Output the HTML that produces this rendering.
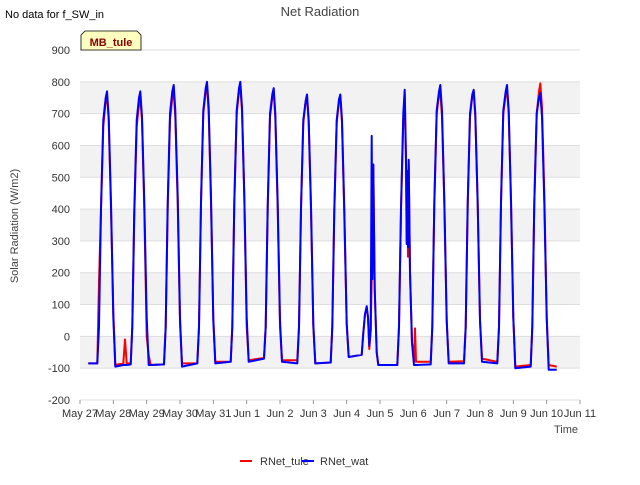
<!DOCTYPE html>
<html><head><meta charset="utf-8"><style>
body{margin:0;background:#fff;font-family:"Liberation Sans",sans-serif}
svg text{font-family:"Liberation Sans",sans-serif}
</style></head><body>
<svg width="640" height="480" xmlns="http://www.w3.org/2000/svg">
<rect width="640" height="480" fill="#fff"/>
<text x="320" y="16" text-anchor="middle" font-size="13" fill="#444">Net Radiation</text>
<text x="5" y="18" font-size="11" fill="#000">No data for f_SW_in</text>
<g id="bands"></g>
<g id="grid"></g>
<g id="series"></g>
<g id="axes"></g>
<g>
<path d="M81,50 L81,35 L85,31 L137,31 L141,35 L141,50 Z" fill="#ffffc0" stroke="#000" stroke-width="0.8"/>
<text x="111" y="46" text-anchor="middle" font-size="11" font-weight="bold" fill="#8b0000">MB_tule</text>
</g>
<text x="18" y="226" text-anchor="middle" font-size="11" fill="#444" transform="rotate(-90 18 226)">Solar Radiation (W/m2)</text>
<text x="566" y="433" text-anchor="middle" font-size="11" fill="#444">Time</text>
<g>
<line x1="240" y1="461" x2="252" y2="461" stroke="#f00" stroke-width="2"/>
<text x="260" y="465" font-size="11" fill="#333">RNet_tule</text>
<line x1="302" y1="461" x2="314" y2="461" stroke="#00f" stroke-width="2"/>
<text x="320" y="465" font-size="11" fill="#333">RNet_wat</text>
</g>
</svg>
<script>
const xTickLabels=["May 27","May 28","May 29","May 30","May 31","Jun 1","Jun 2","Jun 3","Jun 4","Jun 5","Jun 6","Jun 7","Jun 8","Jun 9","Jun 10","Jun 11"];
const yTicks=[-200,-100,0,100,200,300,400,500,600,700,800,900];
const times=[0.25,0.52,0.57,0.63,0.70,0.77,0.81,0.86,0.93,1.00,1.06,1.30,1.35,1.40,
1.52,1.57,1.63,1.70,1.77,1.81,1.86,1.93,2.00,2.06,2.12,
2.52,2.57,2.63,2.70,2.77,2.81,2.86,2.93,3.00,3.06,
3.52,3.57,3.63,3.70,3.77,3.81,3.86,3.93,4.00,4.06,
4.52,4.57,4.63,4.70,4.77,4.81,4.86,4.93,5.00,5.06,
5.52,5.57,5.63,5.70,5.77,5.81,5.86,5.93,6.00,6.06,
6.52,6.57,6.63,6.70,6.77,6.81,6.86,6.93,7.00,7.06,
7.52,7.57,7.63,7.70,7.77,7.81,7.86,7.93,8.00,8.06,
8.45,8.50,8.55,8.60,8.64,8.68,8.72,8.75,8.77,8.80,8.84,8.90,8.95,
9.52,9.57,9.63,9.70,9.74,9.78,9.80,9.82,9.84,9.86,9.90,9.96,10.02,10.05,10.08,
10.52,10.57,10.63,10.70,10.77,10.81,10.86,10.93,11.00,11.06,
11.52,11.57,11.63,11.70,11.77,11.81,11.86,11.93,12.00,12.06,
12.52,12.57,12.63,12.70,12.77,12.81,12.86,12.93,13.00,13.06,
13.52,13.57,13.63,13.70,13.77,13.81,13.86,13.93,14.00,14.06,14.30];
const rnetWat=[-85,-85,30,400,680,750,770,690,420,60,-95,-90,-90,-90,
-88,30,400,680,750,770,690,420,60,-90,-90,
-88,30,420,700,770,790,710,440,60,-95,
-85,30,420,710,780,800,720,440,50,-85,
-80,30,420,710,780,800,720,440,60,-80,
-70,30,410,700,760,780,700,420,50,-80,
-85,30,400,680,740,760,680,410,40,-85,
-82,30,400,680,745,760,680,400,40,-65,
-58,10,70,95,60,-30,20,630,180,540,150,-50,-90,
-90,30,400,700,775,560,290,520,280,555,200,-20,-90,-90,-90,
-88,30,420,710,770,790,710,430,50,-85,
-85,30,420,700,760,775,700,420,50,-80,
-85,30,420,710,770,790,710,430,60,-100,
-95,30,420,700,750,765,690,420,60,-105,-105];
const rnetTule=[-85,-85,170,400,660,740,760,680,400,80,-90,-85,-10,-85,
-85,30,380,660,730,745,680,400,0,-60,-90,
-88,30,400,680,750,770,690,420,40,-85,
-85,30,420,700,770,790,700,420,60,-80,
-80,30,420,700,770,785,710,440,30,-75,
-68,30,400,690,750,770,690,400,30,-75,
-75,30,400,670,740,755,670,400,30,-85,
-82,30,390,670,740,755,670,380,40,-65,
-58,10,70,90,60,-40,20,180,200,540,150,-50,-90,
-90,30,400,680,760,540,300,500,250,540,200,-20,-80,25,-80,
-80,30,410,700,760,770,690,420,50,-80,
-78,30,410,690,755,770,690,410,50,-70,
-80,30,420,700,760,780,700,420,60,-95,
-90,30,420,700,770,795,720,450,60,-90,-95];
const X0=80,X1=580,Y0=400,Y1=50,DMIN=0,DMAX=15,VMIN=-200,VMAX=900;
const xs=t=>X0+(t-DMIN)/(DMAX-DMIN)*(X1-X0);
const ys=v=>Y0-(v-VMIN)/(VMAX-VMIN)*(Y0-Y1);
const NS="http://www.w3.org/2000/svg";
function mk(tag,attrs,parent){const e=document.createElementNS(NS,tag);for(const k in attrs)e.setAttribute(k,attrs[k]);parent.appendChild(e);return e;}
const bands=document.getElementById('bands'),grid=document.getElementById('grid'),ser=document.getElementById('series'),axes=document.getElementById('axes');
const bg=mk('rect',{x:X0,y:Y1,width:X1-X0,height:Y0-Y1,fill:'#fff'},bands);


for(let i=0;i<yTicks.length-1;i++){
  if(i%2===1){const r=mk('rect',{x:X0,y:ys(yTicks[i+1]),width:X1-X0,height:ys(yTicks[i])-ys(yTicks[i+1]),fill:'#f2f2f2'},bands);
  
  }
}
yTicks.forEach(v=>{
  const l=mk('line',{x1:X0,x2:X1,y1:ys(v),y2:ys(v),stroke:'#ddd','stroke-width':1},grid);
  
  
  const t=mk('text',{x:X0-10,y:ys(v)+4,'text-anchor':'end','font-size':11,fill:'#333'},axes);
  t.textContent=v;
  
  
});
xTickLabels.forEach((lab,i)=>{
  const t=mk('text',{x:xs(i),y:417,'text-anchor':'middle','font-size':11,fill:'#333'},axes);
  t.textContent=lab;
  
  
  const tk=mk('line',{x1:xs(i),x2:xs(i),y1:Y0,y2:Y0+4,stroke:'#999'},axes);
  
  
});
function line(vals,color,name){
  const d=vals.map((v,i)=>(i?'L':'M')+xs(times[i]).toFixed(1)+','+ys(v).toFixed(1)).join('');
  const p=mk('path',{d:d,fill:'none',stroke:color,'stroke-width':2,'stroke-linejoin':'round'},ser);
  
  
}
line(rnetTule,'#f00','rnet-tule-line');
line(rnetWat,'#00f','rnet-wat-line');
</script>
</body></html>
